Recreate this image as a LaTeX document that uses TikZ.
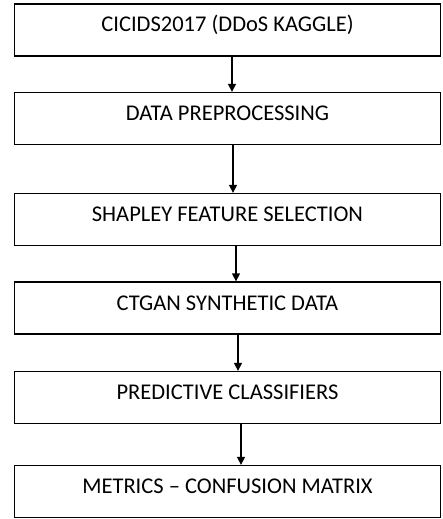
\documentclass[tikz,border=0pt]{standalone}
\usepackage{fontspec}
\setmainfont{Carlito}
\usepackage{tikz}
\usetikzlibrary{arrows.meta}
\tikzset{every edge/.style={draw, line width=1.4pt, -{Triangle[width=8pt,length=8pt]}}}
\tikzset{stage/.style={draw, line width=1.3pt, minimum width=426pt, minimum height=52pt,
    inner sep=0pt, text height=14pt, text depth=10pt, font=\fontsize{22.5}{27}\selectfont}}

\begin{document}
\begin{tikzpicture}[x=1pt, y=-1pt]
    \useasboundingbox (0, 0) rectangle (442, 519);
    \node[stage] at (227.5, 30) (data) {CICIDS2017 (DDoS KAGGLE)};
    \node[stage] at (227.5, 118.5) (prep) {DATA PREPROCESSING};
    \node[stage] at (227.5, 219.5) (shap) {SHAPLEY FEATURE SELECTION};
    \node[stage] at (227.5, 308) (ctgan) {CTGAN SYNTHETIC DATA};
    \node[stage] at (227.5, 397.5) (clf) {PREDICTIVE CLASSIFIERS};
    \node[stage] at (227.5, 491.5) (metrics) {METRICS -- CONFUSION MATRIX};

    % arrows drift a little to the right going down
    \draw ([xshift=4.5pt]data.south) edge ([xshift=4.5pt]prep.north);
    \draw ([xshift=5.5pt]prep.south) edge ([xshift=5.5pt]shap.north);
    \draw ([xshift=8.5pt]shap.south) edge ([xshift=8.5pt]ctgan.north);
    \draw ([xshift=10.5pt]ctgan.south) edge ([xshift=10.5pt]clf.north);
    \draw ([xshift=13.5pt]clf.south) edge ([xshift=13.5pt]metrics.north);
\end{tikzpicture}
\end{document}
